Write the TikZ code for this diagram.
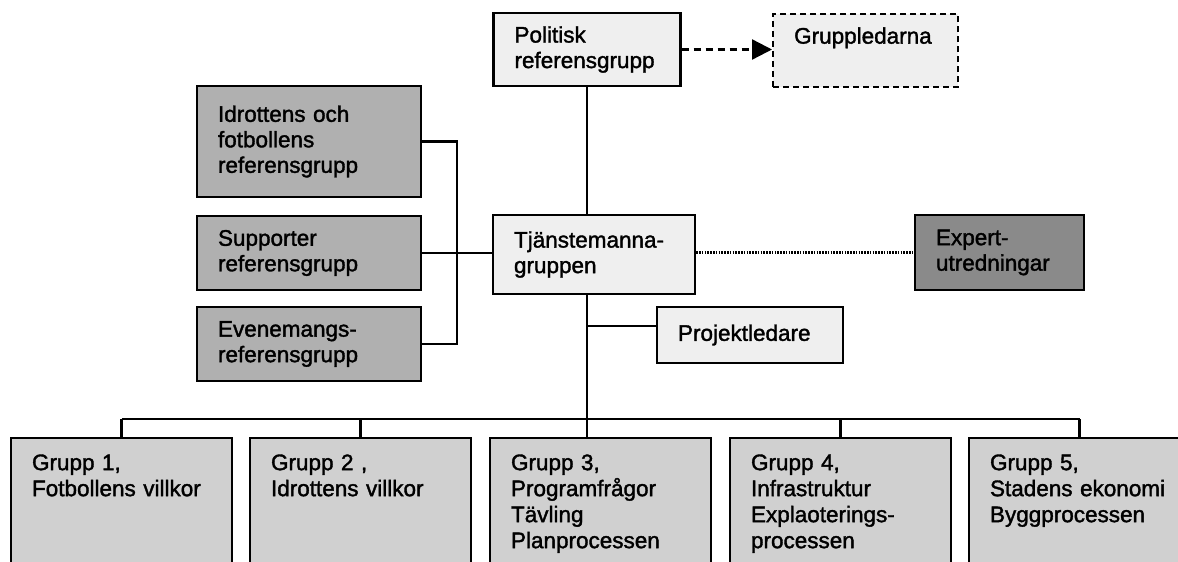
\documentclass[tikz,border=0pt]{standalone}
\usepackage{fontspec}
\setmainfont{Liberation Sans}[FakeBold=1.6]
\usetikzlibrary{arrows.meta}
\definecolor{lightfill}{HTML}{EFEFEF}
\definecolor{midfill}{HTML}{B0B0B0}
\definecolor{botfill}{HTML}{D0D0D0}
\definecolor{darkfill}{HTML}{8A8A8A}
\begin{document}
\begin{tikzpicture}[x=1pt,y=-1pt,
  box/.style={draw=black, line width=2.3pt, rectangle, inner xsep=21pt, inner ysep=0pt,
    align=left, font=\fontsize{22.5}{25.5}\selectfont},
  lightbox/.style={box, fill=lightfill},
  midbox/.style={box, fill=midfill},
  darkbox/.style={box, fill=darkfill},
  botbox/.style={box, fill=botfill, anchor=north, text width=179pt, inner ysep=16pt,
    text height=16pt, text depth=110pt, font=\fontsize{22.5}{26}\selectfont},
  conn/.style={draw=black, line width=2.3pt},
  dashconn/.style={draw=black, line width=2.3pt, dash pattern=on 7pt off 5pt},
  dotconn/.style={draw=black, line width=2.3pt, dash pattern=on 1.6pt off 1.2pt}]
\useasboundingbox (0,0) rectangle (1178,562);
\clip (0,0) rectangle (1178,562);
\fill[white] (0,0) rectangle (1178,562);

\node[lightbox, text width=145pt, minimum height=73pt] (pol) at (587,49.5) {Politisk\\referensgrupp};
\node[lightbox, dash pattern=on 6pt off 4pt, anchor=north west, text width=143pt, inner ysep=13.5pt,
  text height=16pt, text depth=30pt] (grp) at (772,13) {Gruppledarna};
\node[midbox, text width=182pt, minimum height=111pt] (idr) at (309,141.5) {Idrottens och\\fotbollens\\referensgrupp};
\node[midbox, text width=182pt, minimum height=74pt] (sup) at (309,253) {Supporter\\referensgrupp};
\node[midbox, text width=182pt, minimum height=74pt] (eve) at (309,344) {Evenemangs-\\referensgrupp};
\node[lightbox, text width=160pt, minimum height=79pt] (tj) at (594,254.5) {Tjänstemanna-\\gruppen};
\node[darkbox, text width=127pt, minimum height=75pt] (exp) at (999.5,252.5) {Expert-\\utredningar};
\node[lightbox, text width=144pt, minimum height=56pt] (proj) at (750,335) {Projektledare};

\node[botbox] (g1) at (121.5,437) {Grupp 1,\\Fotbollens villkor};
\node[botbox] (g2) at (360.5,437) {Grupp 2 ,\\Idrottens villkor};
\node[botbox] (g3) at (600.5,437) {Grupp 3,\\Programfrågor\\Tävling\\Planprocessen};
\node[botbox] (g4) at (840.5,437) {Grupp 4,\\Infrastruktur\\Explaoterings-\\processen};
\node[botbox] (g5) at (1079.5,437) {Grupp 5,\\Stadens ekonomi\\Byggprocessen};

\coordinate (bus) at (587,419);
\draw[conn] (pol.south) -- (pol.south |- tj.north);
\draw[conn] (pol.south |- tj.south) -- (bus);
\draw[conn] ([yshift=9pt]proj.west -| pol.south) -- ([yshift=9pt]proj.west);
\draw[conn] (bus -| g1.north) -- (bus -| g5.north);
\foreach \g in {g1,g2,g4,g5} {\draw[conn] (bus -| \g.north) -- (\g.north);}
\draw[conn] (bus) -- (bus |- g3.north);
\draw[conn] (idr.east) -- ++(35,0) |- (eve.east);
\draw[conn] (sup.east) -- (sup.east -| tj.west);
\draw[dashconn, -{Triangle[length=20pt,width=20pt]}] (pol.east) -- (pol.east -| grp.west);
\draw[dotconn] (exp.west -| tj.east) -- (exp.west);
\end{tikzpicture}
\end{document}
